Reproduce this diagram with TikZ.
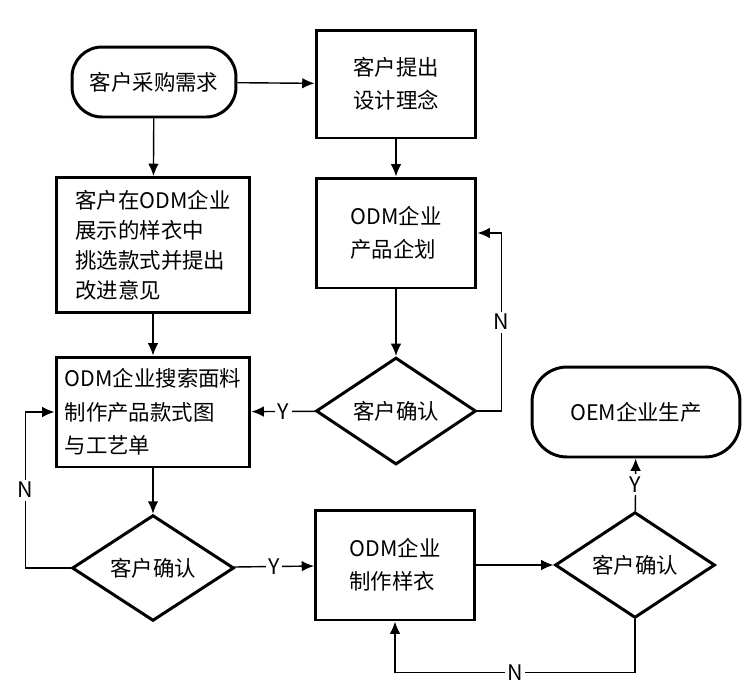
\documentclass[tikz,border=0pt]{standalone}
\usepackage{fontspec}
\setmainfont{Noto Sans CJK SC}
\usepackage{tikz}
\usetikzlibrary{shapes.geometric,arrows.meta}

\begin{document}
\begin{tikzpicture}[x=0.02cm,y=-0.02cm,
        font=\fontsize{12.2}{19}\selectfont,
        box/.style={draw,line width=1.7pt,align=left,inner sep=2pt},
        term/.style={draw,line width=1.7pt,rounded corners=0.6cm},
        decide/.style={draw,diamond,line width=1.7pt,inner sep=0pt},
        line/.style={line width=0.8pt,-{Latex[length=7pt,width=6pt]}},
        lab/.style={fill=white,inner sep=1.5pt}]
        \useasboundingbox (0,0) rectangle (750,694);

        % top row
        \node[term,minimum width=3.28cm,minimum height=1.4cm] (request) at (154,82) {客户采购需求};
        \node[box,minimum width=3.2cm,minimum height=2.16cm] (concept) at (396,84) {客户提出\\设计理念};

        % left column
        \node[box,minimum width=3.88cm,minimum height=2.7cm,font=\fontsize{12.2}{17}\selectfont] (choose) at (153,245) {客户在ODM企业\\展示的样衣中\\挑选款式并提出\\改进意见};
        \node[box,minimum width=3.88cm,minimum height=2.2cm] (search) at (153,412) {ODM企业搜索面料\\制作产品款式图\\与工艺单};
        \node[decide,minimum width=3.24cm,minimum height=2.1cm] (confirmB) at (153,568) {客户确认};

        % middle column
        \node[box,minimum width=3.2cm,minimum height=2.2cm] (plan) at (396,233) {ODM企业\\产品企划};
        \node[decide,minimum width=3.2cm,minimum height=2.14cm] (confirmA) at (396,411) {客户确认};
        \node[box,minimum width=3.18cm,minimum height=2.2cm] (sample) at (395,565) {ODM企业\\制作样衣};

        % right column
        \node[term,minimum width=4.16cm,minimum height=1.8cm,rounded corners=0.7cm] (oem) at (636,412) {OEM企业生产};
        \node[decide,minimum width=3.2cm,minimum height=2.08cm] (confirmC) at (635,565) {客户确认};

        % connectors
        \draw[line] (request) -- (concept);
        \draw[line] (request) -- (choose);
        \draw[line] (concept) -- (plan);
        \draw[line] (choose) -- (search);
        \draw[line] (plan) -- (confirmA);
        \draw[line] (search) -- (confirmB);
        \draw[line] (confirmA) -- node[lab] {Y} (search);
        \draw[line] (confirmB) -- node[lab] {Y} (sample);
        \draw[line] (sample) -- (confirmC);
        \draw[line] (confirmC) -- node[lab] {Y} (oem);

        % loops back
        \draw[line] (confirmA.east) -- ++(24,0) |- node[lab,pos=0.25] {N} (plan.east);
        \draw[line] (confirmB.west) -- ++(-45,0) |- node[lab,pos=0.25] {N} (search.west);
        \draw[line] (confirmC.south) -- ++(0,53) -| node[lab,pos=0.25] {N} (sample.south);
    \end{tikzpicture}
\end{document}
